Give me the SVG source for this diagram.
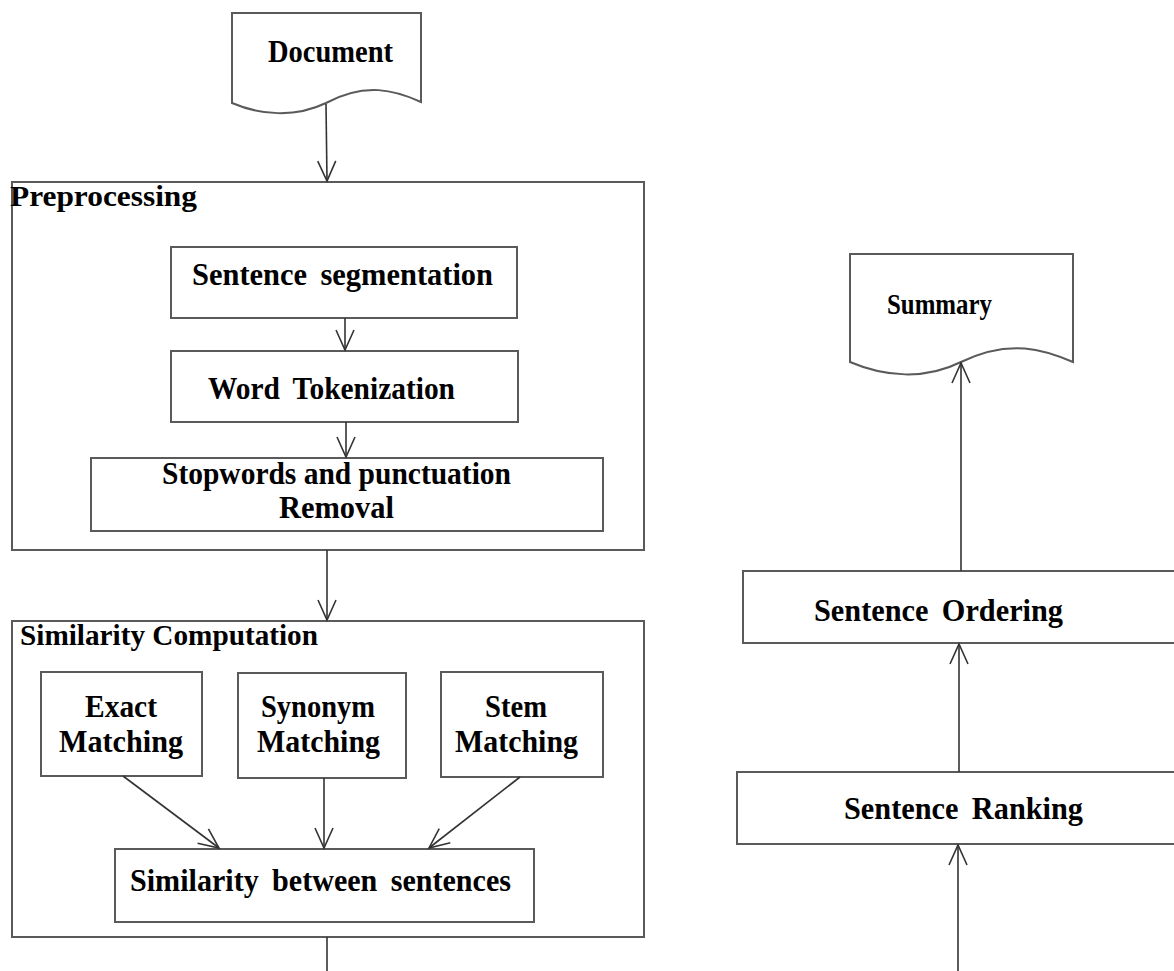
<svg xmlns="http://www.w3.org/2000/svg" width="1174" height="971" viewBox="0 0 1174 971">
<style>
.box{fill:#fff;stroke:#5a5a5a;stroke-width:2}
.t{font-family:"Liberation Serif","Times New Roman",serif;font-weight:bold;fill:#000}
.c{stroke:#333;stroke-width:1.6;fill:none}
</style>
<defs>
<marker id="ah" markerUnits="userSpaceOnUse" markerWidth="40" markerHeight="40" refX="0" refY="0" viewBox="-25 -20 40 40" orient="auto">
<path d="M-20,-9 L0,0 L-20,9" fill="none" stroke="#333" stroke-width="1.6"/>
</marker>
</defs>
<rect width="1174" height="971" fill="#fff"/>
<g id="document">
<path class="box" d="M232,13 H421 V102 C395,90 365,82 326,103 C295,118 260,115 232,103 Z"/>
<text class="t" x="268" y="62" font-size="31" textLength="125" lengthAdjust="spacingAndGlyphs">Document</text>
</g>
<g id="preprocessing">
<rect class="box" x="12" y="182" width="632" height="368"/>
<text class="t" x="10" y="206" font-size="30" textLength="187" lengthAdjust="spacingAndGlyphs">Preprocessing</text>
</g>
<g id="sentence-segmentation">
<rect class="box" x="171" y="247" width="346" height="71"/>
<text class="t" x="192" y="285" font-size="31" textLength="301" lengthAdjust="spacingAndGlyphs" word-spacing="6">Sentence segmentation</text>
</g>
<g id="word-tokenization">
<rect class="box" x="171" y="351" width="347" height="71"/>
<text class="t" x="208" y="399" font-size="31" textLength="247" lengthAdjust="spacingAndGlyphs" word-spacing="6">Word Tokenization</text>
</g>
<g id="stopwords">
<rect class="box" x="91" y="458" width="512" height="73"/>
<text class="t" x="162" y="484" font-size="31" textLength="349" lengthAdjust="spacingAndGlyphs">Stopwords and punctuation</text>
<text class="t" x="279" y="518" font-size="31" textLength="115" lengthAdjust="spacingAndGlyphs">Removal</text>
</g>
<g id="similarity-computation">
<rect class="box" x="12" y="621" width="632" height="316"/>
<text class="t" x="20" y="645" font-size="29" textLength="298" lengthAdjust="spacingAndGlyphs">Similarity Computation</text>
</g>
<g id="exact-matching">
<rect class="box" x="41" y="672" width="161" height="104"/>
<text class="t" x="85" y="717" font-size="31" textLength="72" lengthAdjust="spacingAndGlyphs">Exact</text>
<text class="t" x="59" y="752" font-size="31" textLength="124" lengthAdjust="spacingAndGlyphs">Matching</text>
</g>
<g id="synonym-matching">
<rect class="box" x="238" y="673" width="168" height="105"/>
<text class="t" x="261" y="717" font-size="31" textLength="114" lengthAdjust="spacingAndGlyphs">Synonym</text>
<text class="t" x="257" y="752" font-size="31" textLength="123" lengthAdjust="spacingAndGlyphs">Matching</text>
</g>
<g id="stem-matching">
<rect class="box" x="441" y="672" width="162" height="105"/>
<text class="t" x="485" y="717" font-size="31" textLength="62" lengthAdjust="spacingAndGlyphs">Stem</text>
<text class="t" x="455" y="752" font-size="31" textLength="123" lengthAdjust="spacingAndGlyphs">Matching</text>
</g>
<g id="similarity-between">
<rect class="box" x="115" y="849" width="419" height="73"/>
<text class="t" x="130" y="891" font-size="31" textLength="381" lengthAdjust="spacingAndGlyphs" word-spacing="6">Similarity between sentences</text>
</g>
<g id="summary">
<path class="box" d="M850,254 H1073 V362 C1045,350 1010,338 961,362 C925,380 885,377 850,362 Z"/>
<text class="t" x="887" y="314" font-size="30" textLength="105" lengthAdjust="spacingAndGlyphs">Summary</text>
</g>
<g id="sentence-ordering">
<rect class="box" x="743" y="571" width="445" height="72"/>
<text class="t" x="814" y="621" font-size="31" textLength="249" lengthAdjust="spacingAndGlyphs" word-spacing="6">Sentence Ordering</text>
</g>
<g id="sentence-ranking">
<rect class="box" x="737" y="772" width="451" height="72"/>
<text class="t" x="844" y="819" font-size="31" textLength="239" lengthAdjust="spacingAndGlyphs" word-spacing="6">Sentence Ranking</text>
</g>
<g id="connectors">
<line class="c" x1="326" y1="104" x2="327" y2="181" marker-end="url(#ah)"/>
<line class="c" x1="345" y1="318" x2="345" y2="350" marker-end="url(#ah)"/>
<line class="c" x1="346" y1="422" x2="346" y2="457" marker-end="url(#ah)"/>
<line class="c" x1="327" y1="550" x2="327" y2="620" marker-end="url(#ah)"/>
<line class="c" x1="123" y1="776" x2="219" y2="848" marker-end="url(#ah)"/>
<line class="c" x1="324" y1="778" x2="324" y2="848" marker-end="url(#ah)"/>
<line class="c" x1="520" y1="777" x2="429" y2="848" marker-end="url(#ah)"/>
<line class="c" x1="327" y1="937" x2="327" y2="971"/>
<line class="c" x1="958" y1="971" x2="958" y2="845" marker-end="url(#ah)"/>
<line class="c" x1="959" y1="772" x2="959" y2="644" marker-end="url(#ah)"/>
<line class="c" x1="961" y1="571" x2="961" y2="363" marker-end="url(#ah)"/>
</g>
</svg>
